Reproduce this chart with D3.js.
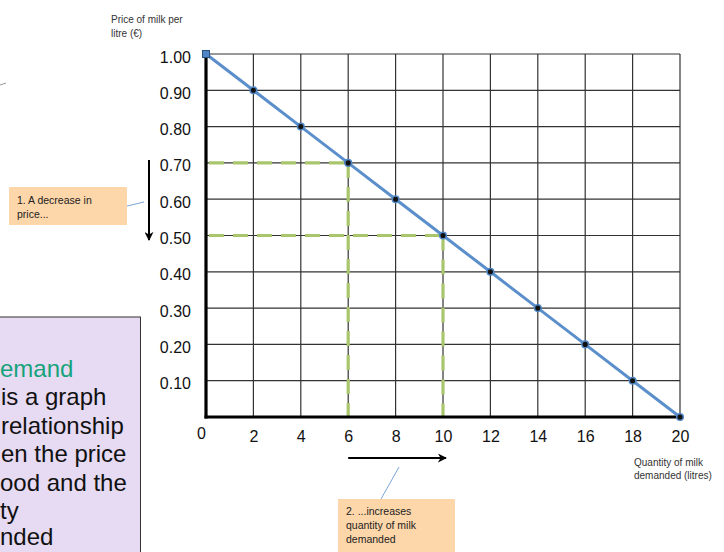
<!DOCTYPE html>
<html>
<head>
<meta charset="utf-8">
<script src="https://cdn.jsdelivr.net/npm/d3@7"></script>
<style>
  html, body { margin: 0; padding: 0; background: #fff; }
  svg { display: block; }
</style>
</head>
<body>
<svg id="chart" width="724" height="552"></svg>
<script>
// ---- data ----
const quantities = [0, 2, 4, 6, 8, 10, 12, 14, 16, 18, 20];
const prices = [1.00, 0.90, 0.80, 0.70, 0.60, 0.50, 0.40, 0.30, 0.20, 0.10, 0.00];
const xTickValues = [0, 2, 4, 6, 8, 10, 12, 14, 16, 18, 20];
const yTickValues = [0.10, 0.20, 0.30, 0.40, 0.50, 0.60, 0.70, 0.80, 0.90, 1.00];
const guideQuantities = [6, 10];
const guidePrices = [0.70, 0.50];
const yAxisTitle = ["Price of milk per", "litre (€)"];
const xAxisTitle = ["Quantity of milk", "demanded (litres)"];
const note1 = ["1. A decrease in", "price..."];
const note2 = ["2. ...increases", "quantity of milk", "demanded"];
const sideText = ["emand", "is a graph", "relationship", "en the price", "ood and the", "ty", "nded"];

const svg = d3.select("#chart");
const font = "'Liberation Sans', Arial, sans-serif";

const x = d3.scaleLinear().domain([0, 20]).range([206, 680]);
const y = d3.scaleLinear().domain([0, 1]).range([417, 54]);

// ---- side purple box (clipped at left/bottom) ----
svg.append("rect").attr("x", -10).attr("y", 317).attr("width", 150.5).attr("height", 260)
  .attr("fill", "#e7daf3").attr("stroke", "#333").attr("stroke-width", 1);
const sideStarts = [0, 1, 1, 1, 0, 0, 0];
svg.append("g").selectAll("text").data(sideText).join("text")
  .attr("x", (d, i) => sideStarts[i])
  .attr("y", (d, i) => i === 6 ? 545 : 377 + i * 28.4)
  .attr("font-family", font).attr("font-size", 24)
  .attr("fill", (d, i) => i === 0 ? "#16a37b" : "#111")
  .text(d => d);

// tiny stray line at top-left
svg.append("line").attr("x1", 0).attr("y1", 85).attr("x2", 6).attr("y2", 83)
  .attr("stroke", "#999").attr("stroke-width", 1);

// ---- grid ----
const grid = svg.append("g").attr("stroke", "#333").attr("stroke-width", 1.2);
grid.selectAll(".v").data(xTickValues.filter(d => d > 0)).join("line")
  .attr("x1", d => x(d)).attr("x2", d => x(d))
  .attr("y1", y(0)).attr("y2", y(1));
grid.selectAll(".h").data(yTickValues).join("line")
  .attr("x1", x(0)).attr("x2", x(20))
  .attr("y1", d => y(d)).attr("y2", d => y(d));

// ---- green dashed guides ----
const guides = svg.append("g").attr("stroke", "#a9c66d").attr("stroke-width", 3.2)
  .attr("stroke-dasharray", "15,9").attr("fill", "none");
guideQuantities.forEach((q, i) => {
  const p = guidePrices[i];
  guides.append("line").attr("x1", x(0) + 3).attr("x2", x(q)).attr("y1", y(p)).attr("y2", y(p));
  guides.append("line").attr("x1", x(q)).attr("x2", x(q)).attr("y1", y(p)).attr("y2", y(0));
});

// ---- axes (thick lines) ----
svg.append("line").attr("x1", x(0)).attr("x2", x(0)).attr("y1", y(1)).attr("y2", y(0) + 1.5)
  .attr("stroke", "#000").attr("stroke-width", 3.2);
svg.append("line").attr("x1", x(0) - 1.5).attr("x2", x(20)).attr("y1", y(0)).attr("y2", y(0))
  .attr("stroke", "#000").attr("stroke-width", 3.2);

// tick labels via d3 axes
const yAxis = svg.append("g").attr("transform", `translate(${x(0) - 15},0)`)
  .call(d3.axisLeft(y).tickValues(yTickValues).tickFormat(d3.format(".2f")).tickSize(0).tickPadding(0));
yAxis.select(".domain").remove();
yAxis.selectAll("text").attr("font-family", font).attr("font-size", 16).attr("fill", "#111")
  .attr("dy", "0.5em");

const xAxis = svg.append("g").attr("transform", `translate(0,${y(0) + 14})`)
  .call(d3.axisBottom(x).tickValues(xTickValues).tickFormat(d3.format("d")).tickSize(0).tickPadding(0));
xAxis.select(".domain").remove();
xAxis.selectAll("text").attr("font-family", font).attr("font-size", 16).attr("fill", "#111")
  .attr("dy", "0.7em");
xAxis.selectAll(".tick").filter(d => d === 0).select("text").attr("dx", -5).attr("dy", "0.5em");

// ---- demand line ----
const pts = quantities.map((q, i) => [q, prices[i]]);
svg.append("path").datum(pts)
  .attr("d", d3.line().x(d => x(d[0])).y(d => y(d[1])))
  .attr("fill", "none").attr("stroke", "#5b8fcb").attr("stroke-width", 3);
svg.append("g").selectAll("circle").data(pts.slice(1)).join("circle")
  .attr("cx", d => x(d[0])).attr("cy", d => y(d[1])).attr("r", 3.3)
  .attr("fill", "#111").attr("stroke", "#4f86c4").attr("stroke-width", 1.5);
svg.append("rect").attr("x", x(pts[0][0]) - 3.5).attr("y", y(pts[0][1]) - 3.5)
  .attr("width", 7).attr("height", 7).attr("fill", "#4f86c6").attr("stroke", "#2c4f7c").attr("stroke-width", 1);

// ---- axis titles ----
svg.append("g").selectAll("text").data(yAxisTitle).join("text")
  .attr("x", 111).attr("y", (d, i) => 23 + i * 14)
  .attr("font-family", font).attr("font-size", 10).attr("fill", "#333").text(d => d);
svg.append("g").selectAll("text").data(xAxisTitle).join("text")
  .attr("x", 634).attr("y", (d, i) => 466 + i * 13)
  .attr("font-family", font).attr("font-size", 10).attr("fill", "#333").text(d => d);

// ---- arrows ----
const defs = svg.append("defs");
defs.append("marker").attr("id", "ah").attr("viewBox", "0 0 10 10").attr("refX", 9).attr("refY", 5)
  .attr("markerWidth", 9).attr("markerHeight", 9).attr("markerUnits", "userSpaceOnUse")
  .attr("orient", "auto")
  .append("path").attr("d", "M0,0 L10,5 L0,10 L3,5 Z").attr("fill", "#000");
svg.append("line").attr("x1", 149).attr("y1", 160).attr("x2", 149).attr("y2", 240)
  .attr("stroke", "#000").attr("stroke-width", 2).attr("marker-end", "url(#ah)");
svg.append("line").attr("x1", x(6)).attr("y1", 458).attr("x2", 446).attr("y2", 458)
  .attr("stroke", "#000").attr("stroke-width", 2).attr("marker-end", "url(#ah)");

// ---- note boxes ----
svg.append("line").attr("x1", 127).attr("y1", 206).attr("x2", 144).attr("y2", 202)
  .attr("stroke", "#7ba7d8").attr("stroke-width", 1);
svg.append("rect").attr("x", 9).attr("y", 187).attr("width", 118).attr("height", 38).attr("fill", "#fdd6a9");
svg.append("g").selectAll("text").data(note1).join("text")
  .attr("x", 17).attr("y", (d, i) => 204 + i * 14)
  .attr("font-family", font).attr("font-size", 10.5).attr("fill", "#222").text(d => d);

svg.append("line").attr("x1", 381).attr("y1", 499).attr("x2", 399).attr("y2", 467)
  .attr("stroke", "#7ba7d8").attr("stroke-width", 1);
svg.append("rect").attr("x", 338).attr("y", 499).attr("width", 117).attr("height", 60).attr("fill", "#fdd6a9");
svg.append("g").selectAll("text").data(note2).join("text")
  .attr("x", 346).attr("y", (d, i) => 515 + i * 14)
  .attr("font-family", font).attr("font-size", 10.5).attr("fill", "#222").text(d => d);
</script>
</body>
</html>
